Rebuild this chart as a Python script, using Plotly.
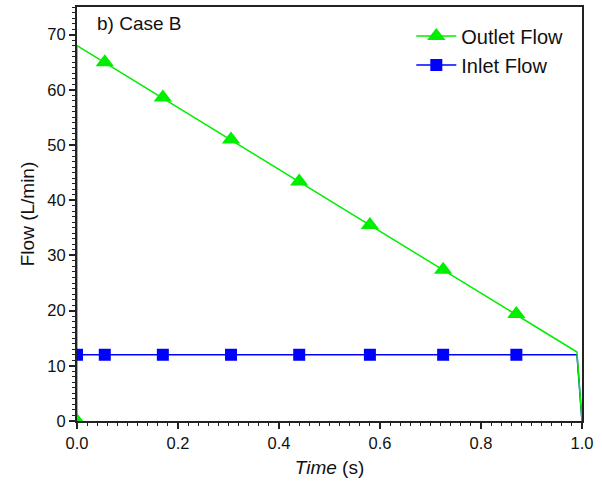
import plotly.graph_objects as go

# Data
outlet_x = [0.0, 0.0, 0.99, 1.0]
outlet_y = [0.0, 68.0, 12.5, 0.0]
outlet_marker_x = [0.0, 0.055, 0.17, 0.305, 0.44, 0.58, 0.725, 0.87]
outlet_marker_y = [0.0, 65.0, 58.6, 51.0, 43.4, 35.5, 27.4, 19.4]

inlet_x = [0.0, 0.99, 1.0]
inlet_y = [12.0, 12.0, 0.0]
inlet_marker_x = [0.0, 0.055, 0.17, 0.305, 0.44, 0.58, 0.725, 0.87]
inlet_marker_y = [12.0, 12.0, 12.0, 12.0, 12.0, 12.0, 12.0, 12.0]

x_ticks = [0.0, 0.2, 0.4, 0.6, 0.8, 1.0]
x_ticklabels = ["0.0", "0.2", "0.4", "0.6", "0.8", "1.0"]
y_ticks = [0, 10, 20, 30, 40, 50, 60, 70]

GREEN = "#00ee00"
BLUE = "#0000ff"
FONT = "Liberation Sans, Arial, sans-serif"

fig = go.Figure()

# Lines (no legend)
fig.add_trace(go.Scatter(x=inlet_x, y=inlet_y, mode="lines",
                         line=dict(color=BLUE, width=1.5), showlegend=False,
                         hoverinfo="skip"))
fig.add_trace(go.Scatter(x=outlet_x, y=outlet_y, mode="lines",
                         line=dict(color=GREEN, width=1.5), showlegend=False,
                         hoverinfo="skip"))
# Markers
fig.add_trace(go.Scatter(x=outlet_marker_x, y=outlet_marker_y, mode="markers",
                         marker=dict(symbol="triangle-up", size=16, color=GREEN),
                         showlegend=False))
fig.add_trace(go.Scatter(x=inlet_marker_x, y=inlet_marker_y, mode="markers",
                         marker=dict(symbol="square", size=12, color=BLUE),
                         showlegend=False))
# Legend entries
fig.add_trace(go.Scatter(x=[None], y=[None], mode="lines+markers", name="Outlet Flow",
                         line=dict(color=GREEN, width=1.5),
                         marker=dict(symbol="triangle-up", size=16, color=GREEN)))
fig.add_trace(go.Scatter(x=[None], y=[None], mode="lines+markers", name="Inlet Flow",
                         line=dict(color=BLUE, width=1.5),
                         marker=dict(symbol="square", size=12, color=BLUE)))

fig.add_annotation(text="b) Case B", xref="paper", yref="paper",
                   x=0.036, y=0.99, xanchor="left", yanchor="top",
                   showarrow=False, font=dict(size=19, color="#111", family=FONT))

axis_common = dict(showline=True, linecolor="#222", linewidth=2, mirror=True,
                   showgrid=False, zeroline=False, ticks="outside",
                   tickcolor="#222", tickwidth=1.5, ticklen=6,
                   tickfont=dict(size=16.5, color="#111", family=FONT))

fig.update_xaxes(range=[0, 1.0], tickvals=x_ticks, ticktext=x_ticklabels,
                 minor=dict(dtick=0.02, ticks="outside", ticklen=3, tickcolor="#222", tickwidth=1),
                 title=dict(text="<i>Time</i> (s)", font=dict(size=19, color="#111", family=FONT),
                            standoff=10),
                 **axis_common)
fig.update_yaxes(range=[0, 75], tickvals=y_ticks,
                 minor=dict(dtick=1, ticks="outside", ticklen=3, tickcolor="#222", tickwidth=1),
                 title=dict(text="Flow (L/min)", font=dict(size=19, color="#111", family=FONT),
                            standoff=8),
                 **axis_common)

fig.update_layout(
    width=602, height=490,
    margin=dict(l=77, r=20, t=5, b=69),
    plot_bgcolor="white", paper_bgcolor="white",
    font=dict(family=FONT, color="#111"),
    legend=dict(x=0.662, y=0.977, xanchor="left", yanchor="top",
                bgcolor="rgba(0,0,0,0)", font=dict(size=20, family=FONT, color="#111"),
                itemwidth=40, tracegroupgap=0),
)

fig.write_html("out.html")
